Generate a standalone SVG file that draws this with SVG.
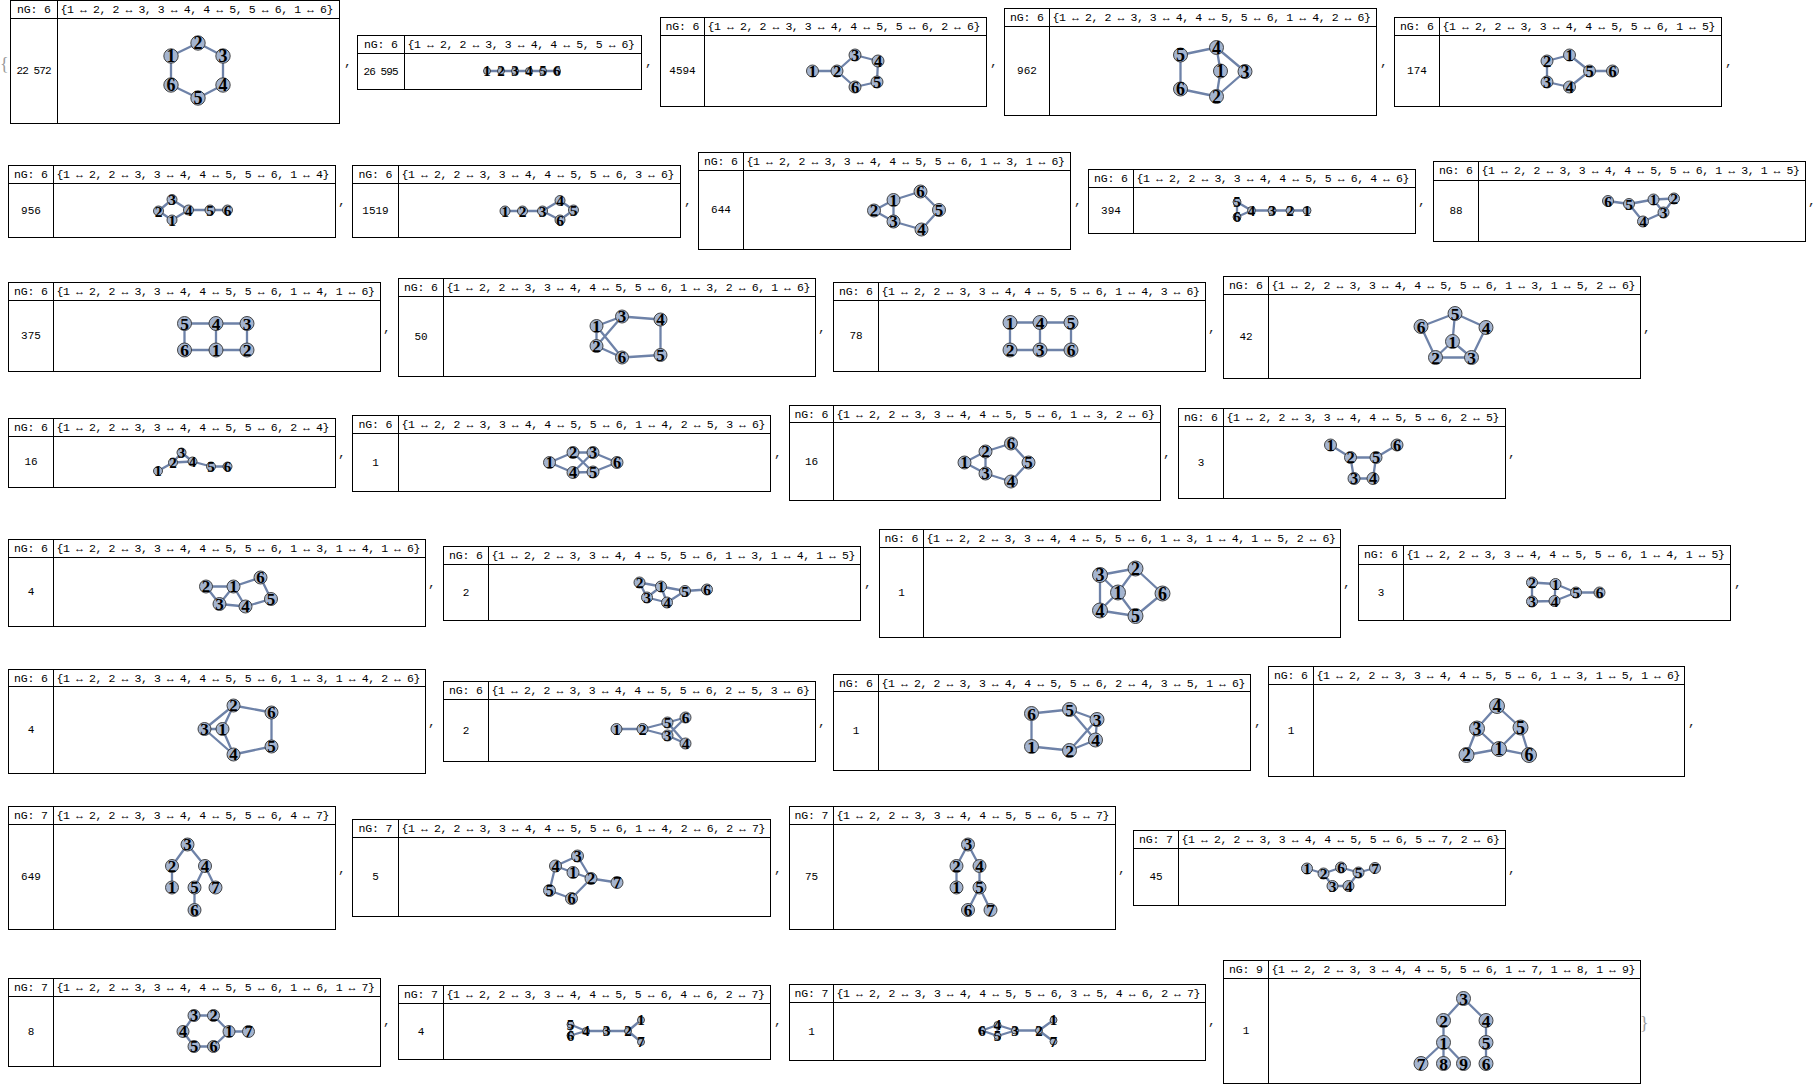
<svg xmlns="http://www.w3.org/2000/svg" width="1816" height="1086" viewBox="0 0 1816 1086">
<style>
.bx{fill:#fff;stroke:#000;stroke-width:1}
.gl{fill:none;stroke:#000;stroke-width:1}
.hd{font-family:"Liberation Mono",monospace;font-size:11.5px;fill:#000}
.hc{text-anchor:middle}
.ct{font-family:"Liberation Mono",monospace;font-size:11px;fill:#000;text-anchor:middle}
.ed{fill:none;stroke:#6e82a8;stroke-width:2.3;stroke-linecap:round;stroke-linejoin:round}
.vx circle{fill:#a4b4cf;stroke:#333;stroke-width:0.9}
.vx text{font-family:"Liberation Serif",serif;font-weight:bold;fill:#000;text-anchor:middle;dominant-baseline:central}
.cm{font-family:"Liberation Mono",monospace;font-size:13px;fill:#222}
.br{font-family:"Liberation Serif",serif;font-size:18px;fill:#999}
</style>
<rect x="0" y="0" width="1816" height="1086" fill="#fff"/>
<text class="br" x="0" y="70">{</text>
<text class="br" x="1640" y="1029">}</text>
<g id="commas">
<text class="cm" x="344" y="66">,</text>
<text class="cm" x="645" y="66">,</text>
<text class="cm" x="990" y="66">,</text>
<text class="cm" x="1380" y="66">,</text>
<text class="cm" x="1725" y="66">,</text>
<text class="cm" x="338" y="205">,</text>
<text class="cm" x="684" y="205">,</text>
<text class="cm" x="1074" y="205">,</text>
<text class="cm" x="1418" y="205">,</text>
<text class="cm" x="1808" y="205">,</text>
<text class="cm" x="383" y="332">,</text>
<text class="cm" x="818" y="332">,</text>
<text class="cm" x="1208" y="332">,</text>
<text class="cm" x="1643" y="332">,</text>
<text class="cm" x="338" y="457">,</text>
<text class="cm" x="774" y="457">,</text>
<text class="cm" x="1163" y="457">,</text>
<text class="cm" x="1508" y="457">,</text>
<text class="cm" x="428" y="587">,</text>
<text class="cm" x="864" y="587">,</text>
<text class="cm" x="1343" y="587">,</text>
<text class="cm" x="1734" y="587">,</text>
<text class="cm" x="428" y="726">,</text>
<text class="cm" x="818" y="726">,</text>
<text class="cm" x="1254" y="726">,</text>
<text class="cm" x="1688" y="726">,</text>
<text class="cm" x="338" y="873">,</text>
<text class="cm" x="774" y="873">,</text>
<text class="cm" x="1118" y="873">,</text>
<text class="cm" x="1508" y="873">,</text>
<text class="cm" x="383" y="1025">,</text>
<text class="cm" x="774" y="1025">,</text>
<text class="cm" x="1208" y="1025">,</text>
</g>

<g id="t1">
<rect class="bx" x="10.5" y="0.5" width="329" height="123"/>
<path class="gl" d="M10.5 18.5H339.5M57.5 0.5V123.5"/>
<text class="hd hc" x="34" y="13" textLength="34">nG: 6</text>
<text class="hd" x="60.5" y="13" textLength="273">{1 ↔ 2, 2 ↔ 3, 3 ↔ 4, 4 ↔ 5, 5 ↔ 6, 1 ↔ 6}</text>
<text class="ct" x="34" y="74" textLength="35">22 572</text>
<g class="edges"><path class="ed" d="M171 56L198 43L223 56L223 85L198 98L171 85Z"/></g>
<g class="vx" style="font-size:18px">
<g id="t1v1"><circle cx="171" cy="56" r="7.2"/><text x="171" y="56">1</text></g>
<g id="t1v2"><circle cx="198" cy="43" r="7.2"/><text x="198" y="43">2</text></g>
<g id="t1v3"><circle cx="223" cy="56" r="7.2"/><text x="223" y="56">3</text></g>
<g id="t1v4"><circle cx="223" cy="85" r="7.2"/><text x="223" y="85">4</text></g>
<g id="t1v5"><circle cx="198" cy="98" r="7.2"/><text x="198" y="98">5</text></g>
<g id="t1v6"><circle cx="171" cy="85" r="7.2"/><text x="171" y="85">6</text></g>
</g>
</g>

<g id="t2">
<rect class="bx" x="357.5" y="35.5" width="284" height="54"/>
<path class="gl" d="M357.5 53.5H641.5M404.5 35.5V89.5"/>
<text class="hd hc" x="381" y="48" textLength="34">nG: 6</text>
<text class="hd" x="407.5" y="48" textLength="227.5">{1 ↔ 2, 2 ↔ 3, 3 ↔ 4, 4 ↔ 5, 5 ↔ 6}</text>
<text class="ct" x="381" y="74.5" textLength="35">26 595</text>
<g class="edges"><path class="ed" d="M487 71H557"/></g>
<g class="vx" style="font-size:15px">
<g id="t2v1"><circle cx="487" cy="71" r="3.5"/><text x="487" y="71">1</text></g>
<g id="t2v2"><circle cx="501" cy="71" r="3.5"/><text x="501" y="71">2</text></g>
<g id="t2v3"><circle cx="515" cy="71" r="3.5"/><text x="515" y="71">3</text></g>
<g id="t2v4"><circle cx="529" cy="71" r="3.5"/><text x="529" y="71">4</text></g>
<g id="t2v5"><circle cx="543" cy="71" r="3.5"/><text x="543" y="71">5</text></g>
<g id="t2v6"><circle cx="557" cy="71" r="3.5"/><text x="557" y="71">6</text></g>
</g>
</g>

<g id="t3">
<rect class="bx" x="660.5" y="17.5" width="326" height="89"/>
<path class="gl" d="M660.5 35.5H986.5M704.5 17.5V106.5"/>
<text class="hd hc" x="682.5" y="30" textLength="34">nG: 6</text>
<text class="hd" x="707.5" y="30" textLength="273">{1 ↔ 2, 2 ↔ 3, 3 ↔ 4, 4 ↔ 5, 5 ↔ 6, 2 ↔ 6}</text>
<text class="ct" x="682.5" y="74">4594</text>
<g class="edges"><path class="ed" d="M812.5 71L837 71L855 55L878 61L877 82L855 87L837 71"/></g>
<g class="vx" style="font-size:16.5px">
<g id="t3v1"><circle cx="812.5" cy="71" r="6"/><text x="812.5" y="71">1</text></g>
<g id="t3v2"><circle cx="837" cy="71" r="6"/><text x="837" y="71">2</text></g>
<g id="t3v3"><circle cx="855" cy="55" r="6"/><text x="855" y="55">3</text></g>
<g id="t3v4"><circle cx="878" cy="61" r="6"/><text x="878" y="61">4</text></g>
<g id="t3v5"><circle cx="877" cy="82" r="6"/><text x="877" y="82">5</text></g>
<g id="t3v6"><circle cx="855" cy="87" r="6"/><text x="855" y="87">6</text></g>
</g>
</g>

<g id="t4">
<rect class="bx" x="1004.5" y="8.5" width="372" height="107"/>
<path class="gl" d="M1004.5 26.5H1376.5M1049.5 8.5V115.5"/>
<text class="hd hc" x="1027" y="21" textLength="34">nG: 6</text>
<text class="hd" x="1052.5" y="21" textLength="318.5">{1 ↔ 2, 2 ↔ 3, 3 ↔ 4, 4 ↔ 5, 5 ↔ 6, 1 ↔ 4, 2 ↔ 6}</text>
<text class="ct" x="1027" y="74">962</text>
<g class="edges"><path class="ed" d="M1220.5 71L1216.5 96.5L1245 71.5L1216.5 47.5L1180.5 55L1180.5 89L1216.5 96.5M1220.5 71L1216.5 47.5"/></g>
<g class="vx" style="font-size:18px">
<g id="t4v1"><circle cx="1220.5" cy="71" r="7"/><text x="1220.5" y="71">1</text></g>
<g id="t4v2"><circle cx="1216.5" cy="96.5" r="7"/><text x="1216.5" y="96.5">2</text></g>
<g id="t4v3"><circle cx="1245" cy="71.5" r="7"/><text x="1245" y="71.5">3</text></g>
<g id="t4v4"><circle cx="1216.5" cy="47.5" r="7"/><text x="1216.5" y="47.5">4</text></g>
<g id="t4v5"><circle cx="1180.5" cy="55" r="7"/><text x="1180.5" y="55">5</text></g>
<g id="t4v6"><circle cx="1180.5" cy="89" r="7"/><text x="1180.5" y="89">6</text></g>
</g>
</g>

<g id="t5">
<rect class="bx" x="1394.5" y="17.5" width="327" height="89"/>
<path class="gl" d="M1394.5 35.5H1721.5M1439.5 17.5V106.5"/>
<text class="hd hc" x="1417" y="30" textLength="34">nG: 6</text>
<text class="hd" x="1442.5" y="30" textLength="273">{1 ↔ 2, 2 ↔ 3, 3 ↔ 4, 4 ↔ 5, 5 ↔ 6, 1 ↔ 5}</text>
<text class="ct" x="1417" y="74">174</text>
<g class="edges"><path class="ed" d="M1569.5 55L1547 61L1547 82L1569.5 87L1589.5 71L1612.5 71M1569.5 55L1589.5 71"/></g>
<g class="vx" style="font-size:16.5px">
<g id="t5v1"><circle cx="1569.5" cy="55" r="6"/><text x="1569.5" y="55">1</text></g>
<g id="t5v2"><circle cx="1547" cy="61" r="6"/><text x="1547" y="61">2</text></g>
<g id="t5v3"><circle cx="1547" cy="82" r="6"/><text x="1547" y="82">3</text></g>
<g id="t5v4"><circle cx="1569.5" cy="87" r="6"/><text x="1569.5" y="87">4</text></g>
<g id="t5v5"><circle cx="1589.5" cy="71" r="6"/><text x="1589.5" y="71">5</text></g>
<g id="t5v6"><circle cx="1612.5" cy="71" r="6"/><text x="1612.5" y="71">6</text></g>
</g>
</g>

<g id="t6">
<rect class="bx" x="8.5" y="165.5" width="327" height="72"/>
<path class="gl" d="M8.5 183.5H335.5M53.5 165.5V237.5"/>
<text class="hd hc" x="31" y="178" textLength="34">nG: 6</text>
<text class="hd" x="56.5" y="178" textLength="273">{1 ↔ 2, 2 ↔ 3, 3 ↔ 4, 4 ↔ 5, 5 ↔ 6, 1 ↔ 4}</text>
<text class="ct" x="31" y="213.5">956</text>
<g class="edges"><path class="ed" d="M172 220L158.5 211L172 199.5L188.5 210L227.5 210M172 220L188.5 210"/></g>
<g class="vx" style="font-size:15.5px">
<g id="t6v1"><circle cx="172" cy="220" r="5"/><text x="172" y="220">1</text></g>
<g id="t6v2"><circle cx="158.5" cy="211" r="5"/><text x="158.5" y="211">2</text></g>
<g id="t6v3"><circle cx="172" cy="199.5" r="5"/><text x="172" y="199.5">3</text></g>
<g id="t6v4"><circle cx="188.5" cy="210" r="5"/><text x="188.5" y="210">4</text></g>
<g id="t6v5"><circle cx="210" cy="210" r="5"/><text x="210" y="210">5</text></g>
<g id="t6v6"><circle cx="227.5" cy="210" r="5"/><text x="227.5" y="210">6</text></g>
</g>
</g>

<g id="t7">
<rect class="bx" x="352.5" y="165.5" width="328" height="72"/>
<path class="gl" d="M352.5 183.5H680.5M398.5 165.5V237.5"/>
<text class="hd hc" x="375.5" y="178" textLength="34">nG: 6</text>
<text class="hd" x="401.5" y="178" textLength="273">{1 ↔ 2, 2 ↔ 3, 3 ↔ 4, 4 ↔ 5, 5 ↔ 6, 3 ↔ 6}</text>
<text class="ct" x="375.5" y="213.5">1519</text>
<g class="edges"><path class="ed" d="M505 211L542.5 211L560 200.5L573.5 210L560 220L542.5 211"/></g>
<g class="vx" style="font-size:15.5px">
<g id="t7v1"><circle cx="505" cy="211" r="5"/><text x="505" y="211">1</text></g>
<g id="t7v2"><circle cx="522.5" cy="211" r="5"/><text x="522.5" y="211">2</text></g>
<g id="t7v3"><circle cx="542.5" cy="211" r="5"/><text x="542.5" y="211">3</text></g>
<g id="t7v4"><circle cx="560" cy="200.5" r="5"/><text x="560" y="200.5">4</text></g>
<g id="t7v5"><circle cx="573.5" cy="210" r="5"/><text x="573.5" y="210">5</text></g>
<g id="t7v6"><circle cx="560" cy="220" r="5"/><text x="560" y="220">6</text></g>
</g>
</g>

<g id="t8">
<rect class="bx" x="698.5" y="152.5" width="372" height="97"/>
<path class="gl" d="M698.5 170.5H1070.5M743.5 152.5V249.5"/>
<text class="hd hc" x="721" y="165" textLength="34">nG: 6</text>
<text class="hd" x="746.5" y="165" textLength="318.5">{1 ↔ 2, 2 ↔ 3, 3 ↔ 4, 4 ↔ 5, 5 ↔ 6, 1 ↔ 3, 1 ↔ 6}</text>
<text class="ct" x="721" y="213">644</text>
<g class="edges"><path class="ed" d="M893.5 200L874 210.5L893.5 221.5L921.5 229.5L939 210L920.5 191.5L893.5 200M893.5 200L893.5 221.5"/></g>
<g class="vx" style="font-size:17px">
<g id="t8v1"><circle cx="893.5" cy="200" r="6.5"/><text x="893.5" y="200">1</text></g>
<g id="t8v2"><circle cx="874" cy="210.5" r="6.5"/><text x="874" y="210.5">2</text></g>
<g id="t8v3"><circle cx="893.5" cy="221.5" r="6.5"/><text x="893.5" y="221.5">3</text></g>
<g id="t8v4"><circle cx="921.5" cy="229.5" r="6.5"/><text x="921.5" y="229.5">4</text></g>
<g id="t8v5"><circle cx="939" cy="210" r="6.5"/><text x="939" y="210">5</text></g>
<g id="t8v6"><circle cx="920.5" cy="191.5" r="6.5"/><text x="920.5" y="191.5">6</text></g>
</g>
</g>

<g id="t9">
<rect class="bx" x="1088.5" y="169.5" width="327" height="64"/>
<path class="gl" d="M1088.5 187.5H1415.5M1133.5 169.5V233.5"/>
<text class="hd hc" x="1111" y="182" textLength="34">nG: 6</text>
<text class="hd" x="1136.5" y="182" textLength="273">{1 ↔ 2, 2 ↔ 3, 3 ↔ 4, 4 ↔ 5, 5 ↔ 6, 4 ↔ 6}</text>
<text class="ct" x="1111" y="213.5">394</text>
<g class="edges"><path class="ed" d="M1307 210.5L1251.5 210.5L1237 202L1237 217L1251.5 210.5"/></g>
<g class="vx" style="font-size:15px">
<g id="t9v1"><circle cx="1307" cy="210.5" r="4"/><text x="1307" y="210.5">1</text></g>
<g id="t9v2"><circle cx="1290" cy="210.5" r="4"/><text x="1290" y="210.5">2</text></g>
<g id="t9v3"><circle cx="1272" cy="210.5" r="4"/><text x="1272" y="210.5">3</text></g>
<g id="t9v4"><circle cx="1251.5" cy="210.5" r="4"/><text x="1251.5" y="210.5">4</text></g>
<g id="t9v5"><circle cx="1237" cy="202" r="4"/><text x="1237" y="202">5</text></g>
<g id="t9v6"><circle cx="1237" cy="217" r="4"/><text x="1237" y="217">6</text></g>
</g>
</g>

<g id="t10">
<rect class="bx" x="1433.5" y="161.5" width="372" height="80"/>
<path class="gl" d="M1433.5 180.5H1805.5M1478.5 161.5V241.5"/>
<text class="hd hc" x="1456" y="174" textLength="34">nG: 6</text>
<text class="hd" x="1481.5" y="174" textLength="318.5">{1 ↔ 2, 2 ↔ 3, 3 ↔ 4, 4 ↔ 5, 5 ↔ 6, 1 ↔ 3, 1 ↔ 5}</text>
<text class="ct" x="1456" y="214">88</text>
<g class="edges"><path class="ed" d="M1653.5 199.5L1674 198.5L1663.5 212.5L1643 221.5L1629 204L1608 201M1653.5 199.5L1663.5 212.5M1653.5 199.5L1629 204"/></g>
<g class="vx" style="font-size:15.5px">
<g id="t10v1"><circle cx="1653.5" cy="199.5" r="5.5"/><text x="1653.5" y="199.5">1</text></g>
<g id="t10v2"><circle cx="1674" cy="198.5" r="5.5"/><text x="1674" y="198.5">2</text></g>
<g id="t10v3"><circle cx="1663.5" cy="212.5" r="5.5"/><text x="1663.5" y="212.5">3</text></g>
<g id="t10v4"><circle cx="1643" cy="221.5" r="5.5"/><text x="1643" y="221.5">4</text></g>
<g id="t10v5"><circle cx="1629" cy="204" r="5.5"/><text x="1629" y="204">5</text></g>
<g id="t10v6"><circle cx="1608" cy="201" r="5.5"/><text x="1608" y="201">6</text></g>
</g>
</g>

<g id="t11">
<rect class="bx" x="8.5" y="282.5" width="372" height="89"/>
<path class="gl" d="M8.5 300.5H380.5M53.5 282.5V371.5"/>
<text class="hd hc" x="31" y="295" textLength="34">nG: 6</text>
<text class="hd" x="56.5" y="295" textLength="318.5">{1 ↔ 2, 2 ↔ 3, 3 ↔ 4, 4 ↔ 5, 5 ↔ 6, 1 ↔ 4, 1 ↔ 6}</text>
<text class="ct" x="31" y="339">375</text>
<g class="edges"><path class="ed" d="M216 350L247 350L247 323.5L184.5 323.5L184.5 350L216 350L216 323.5"/></g>
<g class="vx" style="font-size:17.5px">
<g id="t11v1"><circle cx="216" cy="350" r="7"/><text x="216" y="350">1</text></g>
<g id="t11v2"><circle cx="247" cy="350" r="7"/><text x="247" y="350">2</text></g>
<g id="t11v3"><circle cx="247" cy="323.5" r="7"/><text x="247" y="323.5">3</text></g>
<g id="t11v4"><circle cx="216" cy="323.5" r="7"/><text x="216" y="323.5">4</text></g>
<g id="t11v5"><circle cx="184.5" cy="323.5" r="7"/><text x="184.5" y="323.5">5</text></g>
<g id="t11v6"><circle cx="184.5" cy="350" r="7"/><text x="184.5" y="350">6</text></g>
</g>
</g>

<g id="t12">
<rect class="bx" x="398.5" y="278.5" width="417" height="98"/>
<path class="gl" d="M398.5 296.5H815.5M443.5 278.5V376.5"/>
<text class="hd hc" x="421" y="291" textLength="34">nG: 6</text>
<text class="hd" x="446.5" y="291" textLength="364">{1 ↔ 2, 2 ↔ 3, 3 ↔ 4, 4 ↔ 5, 5 ↔ 6, 1 ↔ 3, 2 ↔ 6, 1 ↔ 6}</text>
<text class="ct" x="421" y="339.5">50</text>
<g class="edges"><path class="ed" d="M596.5 326L596.5 346L622 316.5L660.5 319.5L660.5 355L622 357.5L596.5 346M596.5 326L622 316.5M596.5 326L622 357.5"/></g>
<g class="vx" style="font-size:17px">
<g id="t12v1"><circle cx="596.5" cy="326" r="6.5"/><text x="596.5" y="326">1</text></g>
<g id="t12v2"><circle cx="596.5" cy="346" r="6.5"/><text x="596.5" y="346">2</text></g>
<g id="t12v3"><circle cx="622" cy="316.5" r="6.5"/><text x="622" y="316.5">3</text></g>
<g id="t12v4"><circle cx="660.5" cy="319.5" r="6.5"/><text x="660.5" y="319.5">4</text></g>
<g id="t12v5"><circle cx="660.5" cy="355" r="6.5"/><text x="660.5" y="355">5</text></g>
<g id="t12v6"><circle cx="622" cy="357.5" r="6.5"/><text x="622" y="357.5">6</text></g>
</g>
</g>

<g id="t13">
<rect class="bx" x="833.5" y="282.5" width="372" height="89"/>
<path class="gl" d="M833.5 300.5H1205.5M878.5 282.5V371.5"/>
<text class="hd hc" x="856" y="295" textLength="34">nG: 6</text>
<text class="hd" x="881.5" y="295" textLength="318.5">{1 ↔ 2, 2 ↔ 3, 3 ↔ 4, 4 ↔ 5, 5 ↔ 6, 1 ↔ 4, 3 ↔ 6}</text>
<text class="ct" x="856" y="339">78</text>
<g class="edges"><path class="ed" d="M1010 322.5L1010 350L1040 350L1040 322.5L1071 322.5L1071 350L1040 350M1010 322.5L1040 322.5"/></g>
<g class="vx" style="font-size:17.5px">
<g id="t13v1"><circle cx="1010" cy="322.5" r="7"/><text x="1010" y="322.5">1</text></g>
<g id="t13v2"><circle cx="1010" cy="350" r="7"/><text x="1010" y="350">2</text></g>
<g id="t13v3"><circle cx="1040" cy="350" r="7"/><text x="1040" y="350">3</text></g>
<g id="t13v4"><circle cx="1040" cy="322.5" r="7"/><text x="1040" y="322.5">4</text></g>
<g id="t13v5"><circle cx="1071" cy="322.5" r="7"/><text x="1071" y="322.5">5</text></g>
<g id="t13v6"><circle cx="1071" cy="350" r="7"/><text x="1071" y="350">6</text></g>
</g>
</g>

<g id="t14">
<rect class="bx" x="1223.5" y="276.5" width="417" height="102"/>
<path class="gl" d="M1223.5 294.5H1640.5M1268.5 276.5V378.5"/>
<text class="hd hc" x="1246" y="289" textLength="34">nG: 6</text>
<text class="hd" x="1271.5" y="289" textLength="364">{1 ↔ 2, 2 ↔ 3, 3 ↔ 4, 4 ↔ 5, 5 ↔ 6, 1 ↔ 3, 1 ↔ 5, 2 ↔ 6}</text>
<text class="ct" x="1246" y="339.5">42</text>
<g class="edges"><path class="ed" d="M1452.5 341.5L1435.5 357.5L1471.5 357.5L1486 327.5L1455 313.5L1421 326.5L1435.5 357.5M1452.5 341.5L1471.5 357.5M1452.5 341.5L1455 313.5"/></g>
<g class="vx" style="font-size:17.5px">
<g id="t14v1"><circle cx="1452.5" cy="341.5" r="7"/><text x="1452.5" y="341.5">1</text></g>
<g id="t14v2"><circle cx="1435.5" cy="357.5" r="7"/><text x="1435.5" y="357.5">2</text></g>
<g id="t14v3"><circle cx="1471.5" cy="357.5" r="7"/><text x="1471.5" y="357.5">3</text></g>
<g id="t14v4"><circle cx="1486" cy="327.5" r="7"/><text x="1486" y="327.5">4</text></g>
<g id="t14v5"><circle cx="1455" cy="313.5" r="7"/><text x="1455" y="313.5">5</text></g>
<g id="t14v6"><circle cx="1421" cy="326.5" r="7"/><text x="1421" y="326.5">6</text></g>
</g>
</g>

<g id="t15">
<rect class="bx" x="8.5" y="418.5" width="327" height="69"/>
<path class="gl" d="M8.5 436.5H335.5M53.5 418.5V487.5"/>
<text class="hd hc" x="31" y="431" textLength="34">nG: 6</text>
<text class="hd" x="56.5" y="431" textLength="273">{1 ↔ 2, 2 ↔ 3, 3 ↔ 4, 4 ↔ 5, 5 ↔ 6, 2 ↔ 4}</text>
<text class="ct" x="31" y="465">16</text>
<g class="edges"><path class="ed" d="M158 471L173 462.5L181.5 452.5L192.5 461.5L211 466.5L227.5 466.5M173 462.5L192.5 461.5"/></g>
<g class="vx" style="font-size:15px">
<g id="t15v1"><circle cx="158" cy="471" r="4.5"/><text x="158" y="471">1</text></g>
<g id="t15v2"><circle cx="173" cy="462.5" r="4.5"/><text x="173" y="462.5">2</text></g>
<g id="t15v3"><circle cx="181.5" cy="452.5" r="4.5"/><text x="181.5" y="452.5">3</text></g>
<g id="t15v4"><circle cx="192.5" cy="461.5" r="4.5"/><text x="192.5" y="461.5">4</text></g>
<g id="t15v5"><circle cx="211" cy="466.5" r="4.5"/><text x="211" y="466.5">5</text></g>
<g id="t15v6"><circle cx="227.5" cy="466.5" r="4.5"/><text x="227.5" y="466.5">6</text></g>
</g>
</g>

<g id="t16">
<rect class="bx" x="352.5" y="415.5" width="418" height="76"/>
<path class="gl" d="M352.5 433.5H770.5M398.5 415.5V491.5"/>
<text class="hd hc" x="375.5" y="428" textLength="34">nG: 6</text>
<text class="hd" x="401.5" y="428" textLength="364">{1 ↔ 2, 2 ↔ 3, 3 ↔ 4, 4 ↔ 5, 5 ↔ 6, 1 ↔ 4, 2 ↔ 5, 3 ↔ 6}</text>
<text class="ct" x="375.5" y="465.5">1</text>
<g class="edges"><path class="ed" d="M549.5 462.5L573 452.5L593 452.5L573 472.5L593 472L617 462.5L593 452.5M549.5 462.5L573 472.5M573 452.5L593 472"/></g>
<g class="vx" style="font-size:16.5px">
<g id="t16v1"><circle cx="549.5" cy="462.5" r="6"/><text x="549.5" y="462.5">1</text></g>
<g id="t16v2"><circle cx="573" cy="452.5" r="6"/><text x="573" y="452.5">2</text></g>
<g id="t16v3"><circle cx="593" cy="452.5" r="6"/><text x="593" y="452.5">3</text></g>
<g id="t16v4"><circle cx="573" cy="472.5" r="6"/><text x="573" y="472.5">4</text></g>
<g id="t16v5"><circle cx="593" cy="472" r="6"/><text x="593" y="472">5</text></g>
<g id="t16v6"><circle cx="617" cy="462.5" r="6"/><text x="617" y="462.5">6</text></g>
</g>
</g>

<g id="t17">
<rect class="bx" x="789.5" y="405.5" width="371" height="95"/>
<path class="gl" d="M789.5 422.5H1160.5M833.5 405.5V500.5"/>
<text class="hd hc" x="811.5" y="418" textLength="34">nG: 6</text>
<text class="hd" x="836.5" y="418" textLength="318.5">{1 ↔ 2, 2 ↔ 3, 3 ↔ 4, 4 ↔ 5, 5 ↔ 6, 1 ↔ 3, 2 ↔ 6}</text>
<text class="ct" x="811.5" y="464.5">16</text>
<g class="edges"><path class="ed" d="M964.5 462.5L985.5 451.5L985.5 473.5L1011 481.5L1028.5 462.5L1011 443.5L985.5 451.5M964.5 462.5L985.5 473.5"/></g>
<g class="vx" style="font-size:17px">
<g id="t17v1"><circle cx="964.5" cy="462.5" r="6.5"/><text x="964.5" y="462.5">1</text></g>
<g id="t17v2"><circle cx="985.5" cy="451.5" r="6.5"/><text x="985.5" y="451.5">2</text></g>
<g id="t17v3"><circle cx="985.5" cy="473.5" r="6.5"/><text x="985.5" y="473.5">3</text></g>
<g id="t17v4"><circle cx="1011" cy="481.5" r="6.5"/><text x="1011" y="481.5">4</text></g>
<g id="t17v5"><circle cx="1028.5" cy="462.5" r="6.5"/><text x="1028.5" y="462.5">5</text></g>
<g id="t17v6"><circle cx="1011" cy="443.5" r="6.5"/><text x="1011" y="443.5">6</text></g>
</g>
</g>

<g id="t18">
<rect class="bx" x="1178.5" y="408.5" width="327" height="90"/>
<path class="gl" d="M1178.5 426.5H1505.5M1223.5 408.5V498.5"/>
<text class="hd hc" x="1201" y="421" textLength="34">nG: 6</text>
<text class="hd" x="1226.5" y="421" textLength="273">{1 ↔ 2, 2 ↔ 3, 3 ↔ 4, 4 ↔ 5, 5 ↔ 6, 2 ↔ 5}</text>
<text class="ct" x="1201" y="465.5">3</text>
<g class="edges"><path class="ed" d="M1330.5 445L1350.5 457.5L1354 478.5L1373 478.5L1376 457.5L1397 445M1350.5 457.5L1376 457.5"/></g>
<g class="vx" style="font-size:16.5px">
<g id="t18v1"><circle cx="1330.5" cy="445" r="6"/><text x="1330.5" y="445">1</text></g>
<g id="t18v2"><circle cx="1350.5" cy="457.5" r="6"/><text x="1350.5" y="457.5">2</text></g>
<g id="t18v3"><circle cx="1354" cy="478.5" r="6"/><text x="1354" y="478.5">3</text></g>
<g id="t18v4"><circle cx="1373" cy="478.5" r="6"/><text x="1373" y="478.5">4</text></g>
<g id="t18v5"><circle cx="1376" cy="457.5" r="6"/><text x="1376" y="457.5">5</text></g>
<g id="t18v6"><circle cx="1397" cy="445" r="6"/><text x="1397" y="445">6</text></g>
</g>
</g>

<g id="t19">
<rect class="bx" x="8.5" y="539.5" width="417" height="87"/>
<path class="gl" d="M8.5 557.5H425.5M53.5 539.5V626.5"/>
<text class="hd hc" x="31" y="552" textLength="34">nG: 6</text>
<text class="hd" x="56.5" y="552" textLength="364">{1 ↔ 2, 2 ↔ 3, 3 ↔ 4, 4 ↔ 5, 5 ↔ 6, 1 ↔ 3, 1 ↔ 4, 1 ↔ 6}</text>
<text class="ct" x="31" y="595">4</text>
<g class="edges"><path class="ed" d="M233.5 586.5L206 586.5L219.5 604L245.5 606.5L271 599L260.5 577.5L233.5 586.5M233.5 586.5L219.5 604M233.5 586.5L245.5 606.5"/></g>
<g class="vx" style="font-size:17px">
<g id="t19v1"><circle cx="233.5" cy="586.5" r="6.5"/><text x="233.5" y="586.5">1</text></g>
<g id="t19v2"><circle cx="206" cy="586.5" r="6.5"/><text x="206" y="586.5">2</text></g>
<g id="t19v3"><circle cx="219.5" cy="604" r="6.5"/><text x="219.5" y="604">3</text></g>
<g id="t19v4"><circle cx="245.5" cy="606.5" r="6.5"/><text x="245.5" y="606.5">4</text></g>
<g id="t19v5"><circle cx="271" cy="599" r="6.5"/><text x="271" y="599">5</text></g>
<g id="t19v6"><circle cx="260.5" cy="577.5" r="6.5"/><text x="260.5" y="577.5">6</text></g>
</g>
</g>

<g id="t20">
<rect class="bx" x="443.5" y="546.5" width="417" height="74"/>
<path class="gl" d="M443.5 564.5H860.5M488.5 546.5V620.5"/>
<text class="hd hc" x="466" y="559" textLength="34">nG: 6</text>
<text class="hd" x="491.5" y="559" textLength="364">{1 ↔ 2, 2 ↔ 3, 3 ↔ 4, 4 ↔ 5, 5 ↔ 6, 1 ↔ 3, 1 ↔ 4, 1 ↔ 5}</text>
<text class="ct" x="466" y="595.5">2</text>
<g class="edges"><path class="ed" d="M661 586.5L639.5 582.5L647 597.5L667 602.5L685 591L707 589.5M661 586.5L647 597.5M661 586.5L667 602.5M661 586.5L685 591"/></g>
<g class="vx" style="font-size:15.5px">
<g id="t20v1"><circle cx="661" cy="586.5" r="5.5"/><text x="661" y="586.5">1</text></g>
<g id="t20v2"><circle cx="639.5" cy="582.5" r="5.5"/><text x="639.5" y="582.5">2</text></g>
<g id="t20v3"><circle cx="647" cy="597.5" r="5.5"/><text x="647" y="597.5">3</text></g>
<g id="t20v4"><circle cx="667" cy="602.5" r="5.5"/><text x="667" y="602.5">4</text></g>
<g id="t20v5"><circle cx="685" cy="591" r="5.5"/><text x="685" y="591">5</text></g>
<g id="t20v6"><circle cx="707" cy="589.5" r="5.5"/><text x="707" y="589.5">6</text></g>
</g>
</g>

<g id="t21">
<rect class="bx" x="879.5" y="529.5" width="461" height="108"/>
<path class="gl" d="M879.5 547.5H1340.5M923.5 529.5V637.5"/>
<text class="hd hc" x="901.5" y="542" textLength="34">nG: 6</text>
<text class="hd" x="926.5" y="542" textLength="409.5">{1 ↔ 2, 2 ↔ 3, 3 ↔ 4, 4 ↔ 5, 5 ↔ 6, 1 ↔ 3, 1 ↔ 4, 1 ↔ 5, 2 ↔ 6}</text>
<text class="ct" x="901.5" y="595.5">1</text>
<g class="edges"><path class="ed" d="M1118 592.5L1135.5 568.5L1100 575L1100 610.5L1135.5 616L1162.5 593.5L1135.5 568.5M1118 592.5L1100 575M1118 592.5L1100 610.5M1118 592.5L1135.5 616"/></g>
<g class="vx" style="font-size:18px">
<g id="t21v1"><circle cx="1118" cy="592.5" r="7.5"/><text x="1118" y="592.5">1</text></g>
<g id="t21v2"><circle cx="1135.5" cy="568.5" r="7.5"/><text x="1135.5" y="568.5">2</text></g>
<g id="t21v3"><circle cx="1100" cy="575" r="7.5"/><text x="1100" y="575">3</text></g>
<g id="t21v4"><circle cx="1100" cy="610.5" r="7.5"/><text x="1100" y="610.5">4</text></g>
<g id="t21v5"><circle cx="1135.5" cy="616" r="7.5"/><text x="1135.5" y="616">5</text></g>
<g id="t21v6"><circle cx="1162.5" cy="593.5" r="7.5"/><text x="1162.5" y="593.5">6</text></g>
</g>
</g>

<g id="t22">
<rect class="bx" x="1358.5" y="545.5" width="372" height="75"/>
<path class="gl" d="M1358.5 564.5H1730.5M1403.5 545.5V620.5"/>
<text class="hd hc" x="1381" y="558" textLength="34">nG: 6</text>
<text class="hd" x="1406.5" y="558" textLength="318.5">{1 ↔ 2, 2 ↔ 3, 3 ↔ 4, 4 ↔ 5, 5 ↔ 6, 1 ↔ 4, 1 ↔ 5}</text>
<text class="ct" x="1381" y="595.5">3</text>
<g class="edges"><path class="ed" d="M1555.5 584L1532 582.5L1532 601.5L1554.5 601L1576 592.5L1599.5 592.5M1555.5 584L1554.5 601M1555.5 584L1576 592.5"/></g>
<g class="vx" style="font-size:15.5px">
<g id="t22v1"><circle cx="1555.5" cy="584" r="5.5"/><text x="1555.5" y="584">1</text></g>
<g id="t22v2"><circle cx="1532" cy="582.5" r="5.5"/><text x="1532" y="582.5">2</text></g>
<g id="t22v3"><circle cx="1532" cy="601.5" r="5.5"/><text x="1532" y="601.5">3</text></g>
<g id="t22v4"><circle cx="1554.5" cy="601" r="5.5"/><text x="1554.5" y="601">4</text></g>
<g id="t22v5"><circle cx="1576" cy="592.5" r="5.5"/><text x="1576" y="592.5">5</text></g>
<g id="t22v6"><circle cx="1599.5" cy="592.5" r="5.5"/><text x="1599.5" y="592.5">6</text></g>
</g>
</g>

<g id="t23">
<rect class="bx" x="8.5" y="669.5" width="417" height="104"/>
<path class="gl" d="M8.5 686.5H425.5M53.5 669.5V773.5"/>
<text class="hd hc" x="31" y="682" textLength="34">nG: 6</text>
<text class="hd" x="56.5" y="682" textLength="364">{1 ↔ 2, 2 ↔ 3, 3 ↔ 4, 4 ↔ 5, 5 ↔ 6, 1 ↔ 3, 1 ↔ 4, 2 ↔ 6}</text>
<text class="ct" x="31" y="733">4</text>
<g class="edges"><path class="ed" d="M222.5 729L233.5 705.5L204.5 729L233.5 754.5L271.5 746.5L271.5 712.5L233.5 705.5M222.5 729L204.5 729M222.5 729L233.5 754.5"/></g>
<g class="vx" style="font-size:17px">
<g id="t23v1"><circle cx="222.5" cy="729" r="6.5"/><text x="222.5" y="729">1</text></g>
<g id="t23v2"><circle cx="233.5" cy="705.5" r="6.5"/><text x="233.5" y="705.5">2</text></g>
<g id="t23v3"><circle cx="204.5" cy="729" r="6.5"/><text x="204.5" y="729">3</text></g>
<g id="t23v4"><circle cx="233.5" cy="754.5" r="6.5"/><text x="233.5" y="754.5">4</text></g>
<g id="t23v5"><circle cx="271.5" cy="746.5" r="6.5"/><text x="271.5" y="746.5">5</text></g>
<g id="t23v6"><circle cx="271.5" cy="712.5" r="6.5"/><text x="271.5" y="712.5">6</text></g>
</g>
</g>

<g id="t24">
<rect class="bx" x="443.5" y="681.5" width="372" height="80"/>
<path class="gl" d="M443.5 699.5H815.5M488.5 681.5V761.5"/>
<text class="hd hc" x="466" y="694" textLength="34">nG: 6</text>
<text class="hd" x="491.5" y="694" textLength="318.5">{1 ↔ 2, 2 ↔ 3, 3 ↔ 4, 4 ↔ 5, 5 ↔ 6, 2 ↔ 5, 3 ↔ 6}</text>
<text class="ct" x="466" y="733.5">2</text>
<g class="edges"><path class="ed" d="M616.5 729L642.5 729L667.5 735.5L685.5 743.5L667.5 722.5L685.5 717.5L667.5 735.5M642.5 729L667.5 722.5"/></g>
<g class="vx" style="font-size:15.5px">
<g id="t24v1"><circle cx="616.5" cy="729" r="5.5"/><text x="616.5" y="729">1</text></g>
<g id="t24v2"><circle cx="642.5" cy="729" r="5.5"/><text x="642.5" y="729">2</text></g>
<g id="t24v3"><circle cx="667.5" cy="735.5" r="5.5"/><text x="667.5" y="735.5">3</text></g>
<g id="t24v4"><circle cx="685.5" cy="743.5" r="5.5"/><text x="685.5" y="743.5">4</text></g>
<g id="t24v5"><circle cx="667.5" cy="722.5" r="5.5"/><text x="667.5" y="722.5">5</text></g>
<g id="t24v6"><circle cx="685.5" cy="717.5" r="5.5"/><text x="685.5" y="717.5">6</text></g>
</g>
</g>

<g id="t25">
<rect class="bx" x="833.5" y="674.5" width="417" height="96"/>
<path class="gl" d="M833.5 691.5H1250.5M878.5 674.5V770.5"/>
<text class="hd hc" x="856" y="687" textLength="34">nG: 6</text>
<text class="hd" x="881.5" y="687" textLength="364">{1 ↔ 2, 2 ↔ 3, 3 ↔ 4, 4 ↔ 5, 5 ↔ 6, 2 ↔ 4, 3 ↔ 5, 1 ↔ 6}</text>
<text class="ct" x="856" y="734">1</text>
<g class="edges"><path class="ed" d="M1031.5 746.5L1069.5 750.5L1097 719.5L1095.5 740L1069.5 709.5L1031.5 713.5L1031.5 746.5M1069.5 750.5L1095.5 740M1097 719.5L1069.5 709.5"/></g>
<g class="vx" style="font-size:17.5px">
<g id="t25v1"><circle cx="1031.5" cy="746.5" r="7"/><text x="1031.5" y="746.5">1</text></g>
<g id="t25v2"><circle cx="1069.5" cy="750.5" r="7"/><text x="1069.5" y="750.5">2</text></g>
<g id="t25v3"><circle cx="1097" cy="719.5" r="7"/><text x="1097" y="719.5">3</text></g>
<g id="t25v4"><circle cx="1095.5" cy="740" r="7"/><text x="1095.5" y="740">4</text></g>
<g id="t25v5"><circle cx="1069.5" cy="709.5" r="7"/><text x="1069.5" y="709.5">5</text></g>
<g id="t25v6"><circle cx="1031.5" cy="713.5" r="7"/><text x="1031.5" y="713.5">6</text></g>
</g>
</g>

<g id="t26">
<rect class="bx" x="1268.5" y="666.5" width="416" height="110"/>
<path class="gl" d="M1268.5 684.5H1684.5M1313.5 666.5V776.5"/>
<text class="hd hc" x="1291" y="679" textLength="34">nG: 6</text>
<text class="hd" x="1316.5" y="679" textLength="364">{1 ↔ 2, 2 ↔ 3, 3 ↔ 4, 4 ↔ 5, 5 ↔ 6, 1 ↔ 3, 1 ↔ 5, 1 ↔ 6}</text>
<text class="ct" x="1291" y="733.5">1</text>
<g class="edges"><path class="ed" d="M1499 749L1466.5 755L1477 728.5L1497 706L1520.5 727.5L1529 755L1499 749M1499 749L1477 728.5M1499 749L1520.5 727.5"/></g>
<g class="vx" style="font-size:18px">
<g id="t26v1"><circle cx="1499" cy="749" r="7.5"/><text x="1499" y="749">1</text></g>
<g id="t26v2"><circle cx="1466.5" cy="755" r="7.5"/><text x="1466.5" y="755">2</text></g>
<g id="t26v3"><circle cx="1477" cy="728.5" r="7.5"/><text x="1477" y="728.5">3</text></g>
<g id="t26v4"><circle cx="1497" cy="706" r="7.5"/><text x="1497" y="706">4</text></g>
<g id="t26v5"><circle cx="1520.5" cy="727.5" r="7.5"/><text x="1520.5" y="727.5">5</text></g>
<g id="t26v6"><circle cx="1529" cy="755" r="7.5"/><text x="1529" y="755">6</text></g>
</g>
</g>

<g id="t27">
<rect class="bx" x="8.5" y="806.5" width="327" height="123"/>
<path class="gl" d="M8.5 824.5H335.5M53.5 806.5V929.5"/>
<text class="hd hc" x="31" y="819" textLength="34">nG: 7</text>
<text class="hd" x="56.5" y="819" textLength="273">{1 ↔ 2, 2 ↔ 3, 3 ↔ 4, 4 ↔ 5, 5 ↔ 6, 4 ↔ 7}</text>
<text class="ct" x="31" y="880">649</text>
<g class="edges"><path class="ed" d="M172 887.5L172 866L187.5 844.5L205 866L194.5 887.5L194.5 910M205 866L215.5 887.5"/></g>
<g class="vx" style="font-size:17px">
<g id="t27v1"><circle cx="172" cy="887.5" r="6.5"/><text x="172" y="887.5">1</text></g>
<g id="t27v2"><circle cx="172" cy="866" r="6.5"/><text x="172" y="866">2</text></g>
<g id="t27v3"><circle cx="187.5" cy="844.5" r="6.5"/><text x="187.5" y="844.5">3</text></g>
<g id="t27v4"><circle cx="205" cy="866" r="6.5"/><text x="205" y="866">4</text></g>
<g id="t27v5"><circle cx="194.5" cy="887.5" r="6.5"/><text x="194.5" y="887.5">5</text></g>
<g id="t27v6"><circle cx="194.5" cy="910" r="6.5"/><text x="194.5" y="910">6</text></g>
<g id="t27v7"><circle cx="215.5" cy="887.5" r="6.5"/><text x="215.5" y="887.5">7</text></g>
</g>
</g>

<g id="t28">
<rect class="bx" x="352.5" y="819.5" width="418" height="97"/>
<path class="gl" d="M352.5 837.5H770.5M398.5 819.5V916.5"/>
<text class="hd hc" x="375.5" y="832" textLength="34">nG: 7</text>
<text class="hd" x="401.5" y="832" textLength="364">{1 ↔ 2, 2 ↔ 3, 3 ↔ 4, 4 ↔ 5, 5 ↔ 6, 1 ↔ 4, 2 ↔ 6, 2 ↔ 7}</text>
<text class="ct" x="375.5" y="880">5</text>
<g class="edges"><path class="ed" d="M573 872.5L591 878.5L577.5 856L555.5 866L549.5 890.5L571.5 898.5L591 878.5L617 882.5M573 872.5L555.5 866"/></g>
<g class="vx" style="font-size:16.5px">
<g id="t28v1"><circle cx="573" cy="872.5" r="6"/><text x="573" y="872.5">1</text></g>
<g id="t28v2"><circle cx="591" cy="878.5" r="6"/><text x="591" y="878.5">2</text></g>
<g id="t28v3"><circle cx="577.5" cy="856" r="6"/><text x="577.5" y="856">3</text></g>
<g id="t28v4"><circle cx="555.5" cy="866" r="6"/><text x="555.5" y="866">4</text></g>
<g id="t28v5"><circle cx="549.5" cy="890.5" r="6"/><text x="549.5" y="890.5">5</text></g>
<g id="t28v6"><circle cx="571.5" cy="898.5" r="6"/><text x="571.5" y="898.5">6</text></g>
<g id="t28v7"><circle cx="617" cy="882.5" r="6"/><text x="617" y="882.5">7</text></g>
</g>
</g>

<g id="t29">
<rect class="bx" x="789.5" y="806.5" width="326" height="123"/>
<path class="gl" d="M789.5 824.5H1115.5M833.5 806.5V929.5"/>
<text class="hd hc" x="811.5" y="819" textLength="34">nG: 7</text>
<text class="hd" x="836.5" y="819" textLength="273">{1 ↔ 2, 2 ↔ 3, 3 ↔ 4, 4 ↔ 5, 5 ↔ 6, 5 ↔ 7}</text>
<text class="ct" x="811.5" y="880">75</text>
<g class="edges"><path class="ed" d="M956.5 887.5L956.5 866L968 844.5L979.5 866L979.5 887.5L968 910M979.5 887.5L990.5 910"/></g>
<g class="vx" style="font-size:17px">
<g id="t29v1"><circle cx="956.5" cy="887.5" r="6.5"/><text x="956.5" y="887.5">1</text></g>
<g id="t29v2"><circle cx="956.5" cy="866" r="6.5"/><text x="956.5" y="866">2</text></g>
<g id="t29v3"><circle cx="968" cy="844.5" r="6.5"/><text x="968" y="844.5">3</text></g>
<g id="t29v4"><circle cx="979.5" cy="866" r="6.5"/><text x="979.5" y="866">4</text></g>
<g id="t29v5"><circle cx="979.5" cy="887.5" r="6.5"/><text x="979.5" y="887.5">5</text></g>
<g id="t29v6"><circle cx="968" cy="910" r="6.5"/><text x="968" y="910">6</text></g>
<g id="t29v7"><circle cx="990.5" cy="910" r="6.5"/><text x="990.5" y="910">7</text></g>
</g>
</g>

<g id="t30">
<rect class="bx" x="1133.5" y="830.5" width="372" height="75"/>
<path class="gl" d="M1133.5 848.5H1505.5M1178.5 830.5V905.5"/>
<text class="hd hc" x="1156" y="843" textLength="34">nG: 7</text>
<text class="hd" x="1181.5" y="843" textLength="318.5">{1 ↔ 2, 2 ↔ 3, 3 ↔ 4, 4 ↔ 5, 5 ↔ 6, 5 ↔ 7, 2 ↔ 6}</text>
<text class="ct" x="1156" y="880">45</text>
<g class="edges"><path class="ed" d="M1307 868.5L1323.5 873.5L1332.5 886L1348.5 886L1358.5 872.5L1341 867.5L1323.5 873.5M1358.5 872.5L1375 868"/></g>
<g class="vx" style="font-size:15.5px">
<g id="t30v1"><circle cx="1307" cy="868.5" r="5.5"/><text x="1307" y="868.5">1</text></g>
<g id="t30v2"><circle cx="1323.5" cy="873.5" r="5.5"/><text x="1323.5" y="873.5">2</text></g>
<g id="t30v3"><circle cx="1332.5" cy="886" r="5.5"/><text x="1332.5" y="886">3</text></g>
<g id="t30v4"><circle cx="1348.5" cy="886" r="5.5"/><text x="1348.5" y="886">4</text></g>
<g id="t30v5"><circle cx="1358.5" cy="872.5" r="5.5"/><text x="1358.5" y="872.5">5</text></g>
<g id="t30v6"><circle cx="1341" cy="867.5" r="5.5"/><text x="1341" y="867.5">6</text></g>
<g id="t30v7"><circle cx="1375" cy="868" r="5.5"/><text x="1375" y="868">7</text></g>
</g>
</g>

<g id="t31">
<rect class="bx" x="8.5" y="978.5" width="372" height="88"/>
<path class="gl" d="M8.5 996.5H380.5M53.5 978.5V1066.5"/>
<text class="hd hc" x="31" y="991" textLength="34">nG: 7</text>
<text class="hd" x="56.5" y="991" textLength="318.5">{1 ↔ 2, 2 ↔ 3, 3 ↔ 4, 4 ↔ 5, 5 ↔ 6, 1 ↔ 6, 1 ↔ 7}</text>
<text class="ct" x="31" y="1034.5">8</text>
<g class="edges"><path class="ed" d="M229 1031.5L213.5 1015.5L194 1015.5L183 1031.5L194 1046.5L213.5 1046.5L229 1031.5L248.5 1031.5"/></g>
<g class="vx" style="font-size:16.5px">
<g id="t31v1"><circle cx="229" cy="1031.5" r="6"/><text x="229" y="1031.5">1</text></g>
<g id="t31v2"><circle cx="213.5" cy="1015.5" r="6"/><text x="213.5" y="1015.5">2</text></g>
<g id="t31v3"><circle cx="194" cy="1015.5" r="6"/><text x="194" y="1015.5">3</text></g>
<g id="t31v4"><circle cx="183" cy="1031.5" r="6"/><text x="183" y="1031.5">4</text></g>
<g id="t31v5"><circle cx="194" cy="1046.5" r="6"/><text x="194" y="1046.5">5</text></g>
<g id="t31v6"><circle cx="213.5" cy="1046.5" r="6"/><text x="213.5" y="1046.5">6</text></g>
<g id="t31v7"><circle cx="248.5" cy="1031.5" r="6"/><text x="248.5" y="1031.5">7</text></g>
</g>
</g>

<g id="t32">
<rect class="bx" x="398.5" y="985.5" width="372" height="74"/>
<path class="gl" d="M398.5 1003.5H770.5M443.5 985.5V1059.5"/>
<text class="hd hc" x="421" y="998" textLength="34">nG: 7</text>
<text class="hd" x="446.5" y="998" textLength="318.5">{1 ↔ 2, 2 ↔ 3, 3 ↔ 4, 4 ↔ 5, 5 ↔ 6, 4 ↔ 6, 2 ↔ 7}</text>
<text class="ct" x="421" y="1034.5">4</text>
<g class="edges"><path class="ed" d="M641 1020L628 1031L586 1031L570.5 1024.5L570.5 1035.5L586 1031M628 1031L641 1042"/></g>
<g class="vx" style="font-size:15px">
<g id="t32v1"><circle cx="641" cy="1020" r="3.5"/><text x="641" y="1020">1</text></g>
<g id="t32v2"><circle cx="628" cy="1031" r="3.5"/><text x="628" y="1031">2</text></g>
<g id="t32v3"><circle cx="606.5" cy="1031" r="3.5"/><text x="606.5" y="1031">3</text></g>
<g id="t32v4"><circle cx="586" cy="1031" r="3.5"/><text x="586" y="1031">4</text></g>
<g id="t32v5"><circle cx="570.5" cy="1024.5" r="3.5"/><text x="570.5" y="1024.5">5</text></g>
<g id="t32v6"><circle cx="570.5" cy="1035.5" r="3.5"/><text x="570.5" y="1035.5">6</text></g>
<g id="t32v7"><circle cx="641" cy="1042" r="3.5"/><text x="641" y="1042">7</text></g>
</g>
</g>

<g id="t33">
<rect class="bx" x="789.5" y="984.5" width="416" height="76"/>
<path class="gl" d="M789.5 1002.5H1205.5M833.5 984.5V1060.5"/>
<text class="hd hc" x="811.5" y="997" textLength="34">nG: 7</text>
<text class="hd" x="836.5" y="997" textLength="364">{1 ↔ 2, 2 ↔ 3, 3 ↔ 4, 4 ↔ 5, 5 ↔ 6, 3 ↔ 5, 4 ↔ 6, 2 ↔ 7}</text>
<text class="ct" x="811.5" y="1034.5">1</text>
<g class="edges"><path class="ed" d="M1053.5 1020L1039 1030.5L1015 1030.5L997.5 1025L997.5 1036L982 1030.5L997.5 1025M1015 1030.5L997.5 1036M1039 1030.5L1053.5 1041.5"/></g>
<g class="vx" style="font-size:15px">
<g id="t33v1"><circle cx="1053.5" cy="1020" r="3.5"/><text x="1053.5" y="1020">1</text></g>
<g id="t33v2"><circle cx="1039" cy="1030.5" r="3.5"/><text x="1039" y="1030.5">2</text></g>
<g id="t33v3"><circle cx="1015" cy="1030.5" r="3.5"/><text x="1015" y="1030.5">3</text></g>
<g id="t33v4"><circle cx="997.5" cy="1025" r="3.5"/><text x="997.5" y="1025">4</text></g>
<g id="t33v5"><circle cx="997.5" cy="1036" r="3.5"/><text x="997.5" y="1036">5</text></g>
<g id="t33v6"><circle cx="982" cy="1030.5" r="3.5"/><text x="982" y="1030.5">6</text></g>
<g id="t33v7"><circle cx="1053.5" cy="1041.5" r="3.5"/><text x="1053.5" y="1041.5">7</text></g>
</g>
</g>

<g id="t34">
<rect class="bx" x="1223.5" y="960.5" width="417" height="123"/>
<path class="gl" d="M1223.5 978.5H1640.5M1268.5 960.5V1083.5"/>
<text class="hd hc" x="1246" y="973" textLength="34">nG: 9</text>
<text class="hd" x="1271.5" y="973" textLength="364">{1 ↔ 2, 2 ↔ 3, 3 ↔ 4, 4 ↔ 5, 5 ↔ 6, 1 ↔ 7, 1 ↔ 8, 1 ↔ 9}</text>
<text class="ct" x="1246" y="1034">1</text>
<g class="edges"><path class="ed" d="M1443.5 1042.5L1443.5 1020.5L1463.5 998.5L1486 1020.5L1486 1063.5M1443.5 1042.5L1421 1063.5M1443.5 1042.5L1443.5 1063.5M1443.5 1042.5L1463.5 1063.5"/></g>
<g class="vx" style="font-size:17.5px">
<g id="t34v1"><circle cx="1443.5" cy="1042.5" r="7"/><text x="1443.5" y="1042.5">1</text></g>
<g id="t34v2"><circle cx="1443.5" cy="1020.5" r="7"/><text x="1443.5" y="1020.5">2</text></g>
<g id="t34v3"><circle cx="1463.5" cy="998.5" r="7"/><text x="1463.5" y="998.5">3</text></g>
<g id="t34v4"><circle cx="1486" cy="1020.5" r="7"/><text x="1486" y="1020.5">4</text></g>
<g id="t34v5"><circle cx="1486" cy="1042.5" r="7"/><text x="1486" y="1042.5">5</text></g>
<g id="t34v6"><circle cx="1486" cy="1063.5" r="7"/><text x="1486" y="1063.5">6</text></g>
<g id="t34v7"><circle cx="1421" cy="1063.5" r="7"/><text x="1421" y="1063.5">7</text></g>
<g id="t34v8"><circle cx="1443.5" cy="1063.5" r="7"/><text x="1443.5" y="1063.5">8</text></g>
<g id="t34v9"><circle cx="1463.5" cy="1063.5" r="7"/><text x="1463.5" y="1063.5">9</text></g>
</g>
</g>
</svg>
